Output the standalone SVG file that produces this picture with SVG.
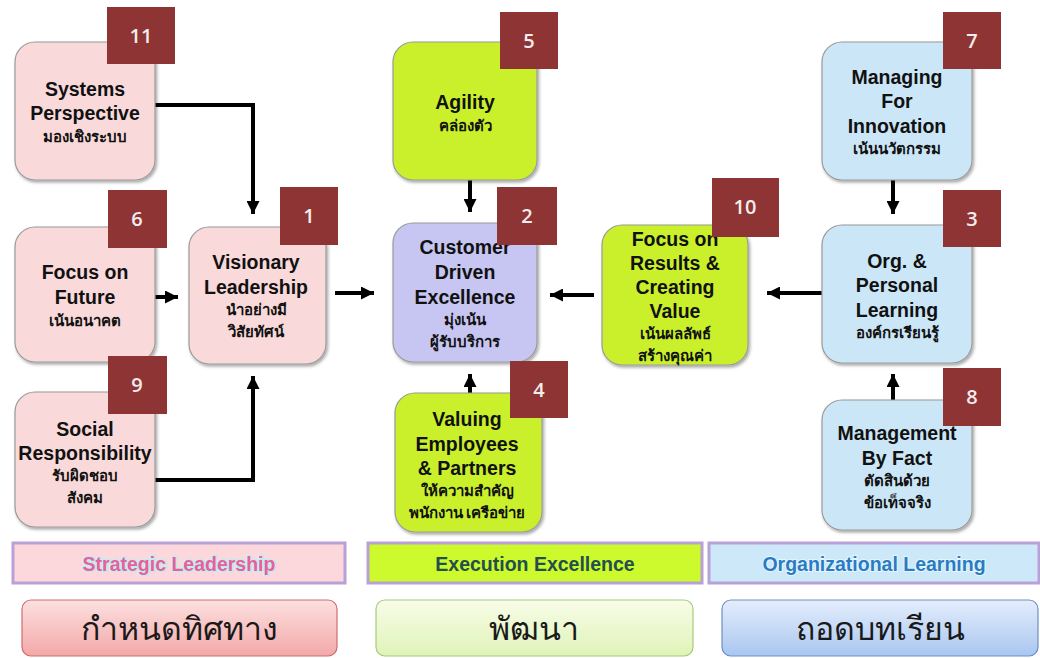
<svg xmlns="http://www.w3.org/2000/svg" width="1040" height="658" viewBox="0 0 1040 658">
<defs>
<style>
.n{stroke:#9a9a9a;stroke-width:1.2}
.pink{fill:#f9d9da}.green{fill:#c9f02c}.lav{fill:#c7c5f1}.blue{fill:#cbe6f7}
.t{font-family:"Liberation Sans",Arial,sans-serif;font-weight:bold;font-size:19.5px;fill:#111;text-anchor:middle}
.th{font-family:"Noto Sans","Liberation Sans",sans-serif;font-weight:bold;font-size:15px;fill:#111;text-anchor:middle}
.b{fill:#8e3434}
.bn{font-family:"Open Sans","Noto Sans",sans-serif;font-size:20px;fill:#f4ecec;text-anchor:middle;font-weight:600}
.c{stroke:#000;stroke-width:4;fill:none}
.bar{stroke:#b9a0d6;stroke-width:3}
.bt{font-family:"Liberation Sans",Arial,sans-serif;font-weight:bold;font-size:19.5px;text-anchor:middle}
.big{font-family:"Noto Sans","Liberation Sans",sans-serif;font-size:32px;fill:#1a1a1a;text-anchor:middle}
</style>
<filter id="sh" x="-10%" y="-10%" width="125%" height="125%">
<feDropShadow dx="1.5" dy="2" stdDeviation="1.8" flood-color="#000" flood-opacity="0.35"/>
</filter>
<marker id="ah" viewBox="0 0 10 10" refX="10" refY="5" markerWidth="13" markerHeight="13" markerUnits="userSpaceOnUse" orient="auto">
<path d="M0,0 L10,5 L0,10 z" fill="#000"/>
</marker>
<linearGradient id="gr" x1="0" y1="0" x2="0" y2="1"><stop offset="0" stop-color="#fde0e0"/><stop offset="1" stop-color="#f3a8a8"/></linearGradient>
<linearGradient id="gg" x1="0" y1="0" x2="0" y2="1"><stop offset="0" stop-color="#f8fde8"/><stop offset="1" stop-color="#dff3b8"/></linearGradient>
<linearGradient id="gb" x1="0" y1="0" x2="0" y2="1"><stop offset="0" stop-color="#e4eefc"/><stop offset="1" stop-color="#a9c6f0"/></linearGradient>
</defs>
<rect width="1040" height="658" fill="#fff"/>

<g id="connectors">
<path class="c" d="M155,105 H253 V214" marker-end="url(#ah)"/>
<path class="c" d="M155,297 H178" marker-end="url(#ah)"/>
<path class="c" d="M155,480 H253 V376" marker-end="url(#ah)"/>
<path class="c" d="M335,293 H374" marker-end="url(#ah)"/>
<path class="c" d="M470,180 V212" marker-end="url(#ah)"/>
<path class="c" d="M470,393 V374" marker-end="url(#ah)"/>
<path class="c" d="M594,295 H550" marker-end="url(#ah)"/>
<path class="c" d="M823,293 H767" marker-end="url(#ah)"/>
<path class="c" d="M893,180 V214" marker-end="url(#ah)"/>
<path class="c" d="M893,400 V374" marker-end="url(#ah)"/>
</g>

<g id="n11">
<rect class="n pink" x="15" y="42" width="140" height="138" rx="20" filter="url(#sh)"/>
<text class="t" x="85" y="96">Systems</text>
<text class="t" x="85" y="120">Perspective</text>
<text class="th" x="85" y="142">มองเชิงระบบ</text>
<rect class="b" x="107" y="7" width="68" height="57"/><text class="bn" x="141" y="43">11</text>
</g>

<g id="n6">
<rect class="n pink" x="15" y="227" width="140" height="135" rx="20" filter="url(#sh)"/>
<text class="t" x="85" y="279">Focus on</text>
<text class="t" x="85" y="304">Future</text>
<text class="th" x="85" y="326">เน้นอนาคต</text>
<rect class="b" x="108" y="190" width="59" height="58"/><text class="bn" x="137" y="226">6</text>
</g>

<g id="n9">
<rect class="n pink" x="15" y="392" width="140" height="135" rx="20" filter="url(#sh)"/>
<rect class="b" x="108" y="356" width="59" height="58"/><text class="bn" x="137" y="392">9</text>
<text class="t" x="85" y="436">Social</text>
<text class="t" x="85" y="460">Responsibility</text>
<text class="th" x="85" y="481">รับผิดชอบ</text>
<text class="th" x="85" y="503">สังคม</text>
</g>

<g id="n1">
<rect class="n pink" x="189" y="227" width="137" height="137" rx="20" filter="url(#sh)"/>
<text class="t" x="256" y="269">Visionary</text>
<text class="t" x="256" y="294">Leadership</text>
<text class="th" x="256" y="315">นำอย่างมี</text>
<text class="th" x="256" y="337">วิสัยทัศน์</text>
<rect class="b" x="280" y="187" width="58" height="58"/><text class="bn" x="309" y="223">1</text>
</g>

<g id="n5">
<rect class="n green" x="393" y="42" width="144" height="138" rx="20" filter="url(#sh)"/>
<text class="t" x="465" y="109">Agility</text>
<text class="th" x="465" y="131">คล่องตัว</text>
<rect class="b" x="500" y="12" width="58" height="57"/><text class="bn" x="529" y="48">5</text>
</g>

<g id="n2">
<rect class="n lav" x="393" y="223" width="144" height="139" rx="20" filter="url(#sh)"/>
<text class="t" x="465" y="254">Customer</text>
<text class="t" x="465" y="279">Driven</text>
<text class="t" x="465" y="304">Excellence</text>
<text class="th" x="465" y="325">มุ่งเน้น</text>
<text class="th" x="465" y="347">ผู้รับบริการ</text>
<rect class="b" x="497" y="187" width="60" height="58"/><text class="bn" x="527" y="223">2</text>
</g>

<g id="n4">
<rect class="n green" x="395" y="393" width="147" height="139" rx="20" filter="url(#sh)"/>
<text class="t" x="467" y="426">Valuing</text>
<text class="t" x="467" y="451">Employees</text>
<text class="t" x="467" y="475">&amp; Partners</text>
<text class="th" x="467" y="496">ให้ความสำคัญ</text>
<text class="th" x="467" y="518">พนักงาน เครือข่าย</text>
<rect class="b" x="510" y="361" width="58" height="57"/><text class="bn" x="539" y="397">4</text>
</g>

<g id="n10">
<rect class="n green" x="602" y="225" width="146" height="140" rx="20" filter="url(#sh)"/>
<text class="t" x="675" y="246">Focus on</text>
<text class="t" x="675" y="270">Results &amp;</text>
<text class="t" x="675" y="294">Creating</text>
<text class="t" x="675" y="318">Value</text>
<text class="th" x="675" y="339">เน้นผลลัพธ์</text>
<text class="th" x="675" y="361">สร้างคุณค่า</text>
<rect class="b" x="712" y="178" width="67" height="59"/><text class="bn" x="745" y="214">10</text>
</g>

<g id="n7">
<rect class="n blue" x="822" y="42" width="150" height="138" rx="20" filter="url(#sh)"/>
<text class="t" x="897" y="84">Managing</text>
<text class="t" x="897" y="108">For</text>
<text class="t" x="897" y="133">Innovation</text>
<text class="th" x="897" y="154">เน้นนวัตกรรม</text>
<rect class="b" x="943" y="12" width="58" height="57"/><text class="bn" x="972" y="48">7</text>
</g>

<g id="n3">
<rect class="n blue" x="822" y="225" width="150" height="138" rx="20" filter="url(#sh)"/>
<text class="t" x="897" y="268">Org. &amp;</text>
<text class="t" x="897" y="292">Personal</text>
<text class="t" x="897" y="317">Learning</text>
<text class="th" x="897" y="338">องค์กรเรียนรู้</text>
<rect class="b" x="943" y="190" width="58" height="57"/><text class="bn" x="972" y="226">3</text>
</g>

<g id="n8">
<rect class="n blue" x="822" y="400" width="150" height="130" rx="20" filter="url(#sh)"/>
<text class="t" x="897" y="440">Management</text>
<text class="t" x="897" y="465">By Fact</text>
<text class="th" x="897" y="486">ตัดสินด้วย</text>
<text class="th" x="897" y="508">ข้อเท็จจริง</text>
<rect class="b" x="943" y="368" width="58" height="58"/><text class="bn" x="972" y="404">8</text>
</g>

<g id="bars">
<rect class="bar" x="13" y="543" width="332" height="40" fill="#fcd8dc"/>
<text class="bt" x="179" y="571" fill="#e8609c" stroke="#bfeef2" stroke-width="2.5" paint-order="stroke">Strategic Leadership</text>
<rect class="bar" x="368" y="543" width="334" height="40" fill="#cdfa2c"/>
<text class="bt" x="535" y="571" fill="#234f4c">Execution Excellence</text>
<rect class="bar" x="709" y="543" width="330" height="40" fill="#cde9f9"/>
<text class="bt" x="874" y="571" fill="#2a7cc2" stroke="#e6f6ff" stroke-width="2" paint-order="stroke">Organizational Learning</text>
</g>

<g id="bottom">
<rect x="22" y="600" width="315" height="56" rx="9" fill="url(#gr)" stroke="#cf6d6d" stroke-width="1.2"/>
<text class="big" x="179" y="640">กำหนดทิศทาง</text>
<rect x="376" y="600" width="317" height="56" rx="9" fill="url(#gg)" stroke="#a9c97a" stroke-width="1.2"/>
<text class="big" x="534" y="640">พัฒนา</text>
<rect x="722" y="600" width="316" height="56" rx="9" fill="url(#gb)" stroke="#6d8fc4" stroke-width="1.2"/>
<text class="big" x="880" y="640">ถอดบทเรียน</text>
</g>
</svg>
